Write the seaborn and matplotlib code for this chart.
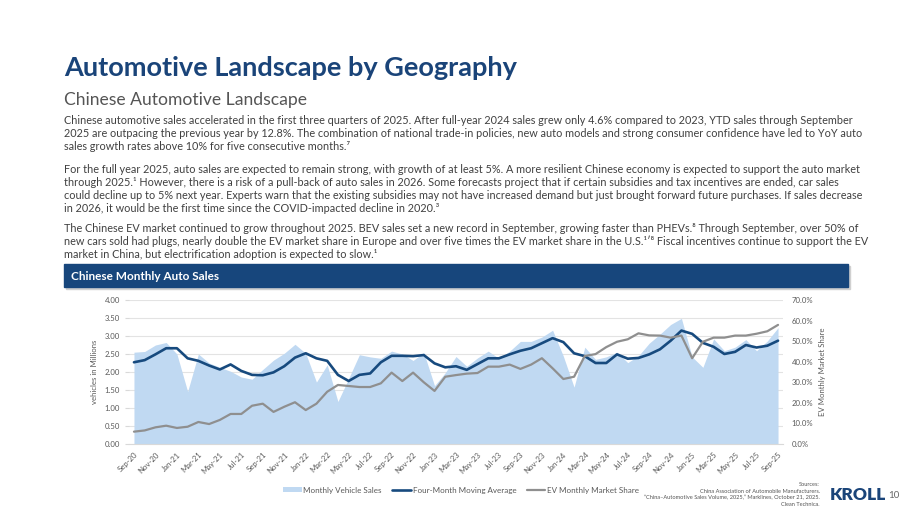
import matplotlib
matplotlib.use("Agg")
import matplotlib.pyplot as plt
import matplotlib.patches as mpatches
from matplotlib.lines import Line2D
from matplotlib.ticker import FuncFormatter, MultipleLocator, FixedLocator
import numpy as np
import pandas as pd
import seaborn as sns

# ── Data ──────────────────────────────────────────────────────────────────────
months = [
    "Sep-20", "Oct-20", "Nov-20", "Dec-20",
    "Jan-21", "Feb-21", "Mar-21", "Apr-21", "May-21", "Jun-21",
    "Jul-21", "Aug-21", "Sep-21", "Oct-21", "Nov-21", "Dec-21",
    "Jan-22", "Feb-22", "Mar-22", "Apr-22", "May-22", "Jun-22",
    "Jul-22", "Aug-22", "Sep-22", "Oct-22", "Nov-22", "Dec-22",
    "Jan-23", "Feb-23", "Mar-23", "Apr-23", "May-23", "Jun-23",
    "Jul-23", "Aug-23", "Sep-23", "Oct-23", "Nov-23", "Dec-23",
    "Jan-24", "Feb-24", "Mar-24", "Apr-24", "May-24", "Jun-24",
    "Jul-24", "Aug-24", "Sep-24", "Oct-24", "Nov-24", "Dec-24",
    "Jan-25", "Feb-25", "Mar-25", "Apr-25", "May-25", "Jun-25",
    "Jul-25", "Aug-25", "Sep-25",
]
monthly_sales = [
    2.55, 2.57, 2.75, 2.82,
    2.50, 1.46, 2.50, 2.25, 2.13, 2.02,
    1.86, 1.80, 2.07, 2.33, 2.52, 2.77,
    2.52, 1.72, 2.20, 1.18, 1.82, 2.48,
    2.42, 2.38, 2.58, 2.50, 2.32, 2.54,
    1.62, 1.98, 2.43, 2.16, 2.39, 2.58,
    2.38, 2.58, 2.85, 2.85, 2.97, 3.16,
    2.44, 1.58, 2.69, 2.35, 2.42, 2.55,
    2.26, 2.45, 2.80, 3.05, 3.32, 3.49,
    2.42, 2.13, 2.92, 2.59, 2.69, 2.90,
    2.59, 2.86, 3.23,
]
moving_avg = [
    2.27, 2.33, 2.49, 2.66,
    2.66, 2.38, 2.31, 2.18, 2.07, 2.21,
    2.03, 1.92, 1.91, 1.99, 2.16, 2.40,
    2.52, 2.38, 2.31, 1.92, 1.75, 1.92,
    1.96, 2.27, 2.45, 2.45, 2.44, 2.47,
    2.24, 2.13, 2.16, 2.06, 2.22, 2.38,
    2.38, 2.49, 2.59, 2.66, 2.80, 2.94,
    2.83, 2.52, 2.44, 2.25, 2.25, 2.49,
    2.37, 2.39, 2.49, 2.63, 2.87, 3.15,
    3.06, 2.81, 2.70, 2.50, 2.56, 2.75,
    2.68, 2.73, 2.87,
]
ev_share = [
    6.0, 6.6, 8.1, 8.9,
    7.8, 8.4, 10.7, 9.7, 11.7, 14.6,
    14.6, 18.6, 19.6, 15.6, 18.1, 20.3,
    16.5, 19.6, 25.4, 28.7, 28.2, 27.7,
    27.7, 29.5, 34.7, 30.6, 34.7, 30.0,
    25.8, 32.7, 33.5, 34.2, 34.5, 37.6,
    37.6, 38.6, 36.5, 38.6, 41.7, 36.8,
    31.6, 32.7, 42.8, 43.7, 47.1, 49.7,
    50.9, 53.8, 52.8, 52.7, 51.7, 52.7,
    41.7, 49.7, 51.7, 51.7, 52.7, 52.7,
    53.6, 54.8, 57.9,
]

title = "Automotive Landscape by Geography"
subtitle = "Chinese Automotive Landscape"
paragraphs = [
    ["Chinese automotive sales accelerated in the first three quarters of 2025. After full-year 2024 sales grew only 4.6% compared to 2023, YTD sales through September",
     "2025 are outpacing the previous year by 12.8%. The combination of national trade-in policies, new auto models and strong consumer confidence have led to YoY auto",
     "sales growth rates above 10% for five consecutive months.\u2077"],
    ["For the full year 2025, auto sales are expected to remain strong, with growth of at least 5%. A more resilient Chinese economy is expected to support the auto market",
     "through 2025.\u00b9 However, there is a risk of a pull-back of auto sales in 2026. Some forecasts project that if certain subsidies and tax incentives are ended, car sales",
     "could decline up to 5% next year. Experts warn that the existing subsidies may not have increased demand but just brought forward future purchases. If sales decrease",
     "in 2026, it would be the first time since the COVID-impacted decline in 2020.\u00b3"],
    ["The Chinese EV market continued to grow throughout 2025. BEV sales set a new record in September, growing faster than PHEVs.\u2078 Through September, over 50% of",
     "new cars sold had plugs, nearly double the EV market share in Europe and over five times the EV market share in the U.S.\u00b9\u02b9\u2078 Fiscal incentives continue to support the EV",
     "market in China, but electrification adoption is expected to slow.\u00b9"],
]
sources = ("Sources:\nChina Association of Automobile Manufacturers.\n"
           "\u201cChina\u2013Automotive Sales Volume, 2025,\u201d Marklines, October 21, 2025.\n"
           "Clean Technica.")

# ── Style ─────────────────────────────────────────────────────────────────────
NAVY = "#1a4479"
BANNER = "#17467c"
AREA = "#c0d9f2"
MA_BLUE = "#174a7e"
EV_GRAY = "#8f8f8f"
TXT = "#404040"
TICK = "#595959"

sns.set_style("white")
plt.rcParams["font.family"] = ["Lato", "DejaVu Sans"]

W, H = 920, 518
fig = plt.figure(figsize=(9.2, 5.18), dpi=100)


def fx(x):
    return x / W


def fy(y):
    return 1 - y / H


renderer = fig.canvas.get_renderer()


def fit(t, width_px):
    w = t.get_window_extent(renderer).width
    t.set_fontsize(t.get_fontsize() * width_px / w)


# ── Header text ───────────────────────────────────────────────────────────────
t = fig.text(fx(64), fy(76), title, fontsize=20, weight="bold", color=NAVY, va="baseline")
fit(t, 454)
t = fig.text(fx(64), fy(105), subtitle, fontsize=12, color="#555555", va="baseline")
fit(t, 242)

baselines = [[124, 137, 150], [173, 186, 199, 212], [232, 245, 258]]
body = []
for para, ys in zip(paragraphs, baselines):
    for line, y in zip(para, ys):
        body.append(fig.text(fx(64), fy(y), line, fontsize=7.5, color=TXT, va="baseline"))
widest = max(b.get_window_extent(renderer).width for b in body)
scale = 798 / widest
for b in body:
    b.set_fontsize(7.5 * scale)

# ── Banner ────────────────────────────────────────────────────────────────────
fig.patches.append(mpatches.Rectangle((fx(66), fy(289)), (848 - 64) / W, 23 / H,
                                      transform=fig.transFigure, color="#d0d0d0", zorder=0))
fig.patches.append(mpatches.Rectangle((fx(64), fy(287)), (848 - 64) / W, 23 / H,
                                      transform=fig.transFigure, color=BANNER, zorder=1))
t = fig.text(fx(71), fy(276), "Chinese Monthly Auto Sales", fontsize=8, weight="bold",
             color="white", va="center")
fit(t, 148)

# ── Chart ─────────────────────────────────────────────────────────────────────
df = pd.DataFrame({
    "idx": np.arange(len(months)),
    "month": months,
    "sales": monthly_sales,
    "ma": moving_avg,
    "ev": ev_share,
})

ax = fig.add_axes([fx(128.6), fy(444), (783.4 - 128.6) / W, 144 / H])
ax.fill_between(df["idx"], 0, df["sales"], color=AREA, lw=0, zorder=1)
sns.lineplot(data=df, x="idx", y="ma", ax=ax, color=MA_BLUE, lw=1.9, zorder=3)

ax.set_xlim(-0.5, len(months) - 0.5)
ax.set_ylim(0, 4)
ax.yaxis.set_major_locator(MultipleLocator(0.5))
ax.yaxis.set_major_formatter(FuncFormatter(lambda v, _: f"{v:.2f}"))
ax.grid(axis="y", color="#e3e3e3", lw=0.8)
ax.set_axisbelow(True)
for s in ["top", "right", "left"]:
    ax.spines[s].set_visible(False)
ax.spines["bottom"].set_color("#d9d9d9")
ax.spines["bottom"].set_linewidth(0.8)

ax.set_xticks(df["idx"][::2])
ax.set_xticklabels(df["month"][::2], rotation=45, ha="right", va="top",
                   rotation_mode="anchor", fontsize=5.6, color=TICK)
ax.xaxis.set_minor_locator(FixedLocator(np.arange(-0.5, len(months), 2)))
ax.tick_params(axis="x", which="major", length=0, pad=5)
ax.tick_params(axis="x", which="minor", length=3, color="#d9d9d9", width=0.8)
ax.tick_params(axis="y", length=3, color="#d9d9d9", labelsize=5.6, labelcolor=TICK, pad=3)
ax.set_xlabel("")
ax.set_ylabel("vehicles in Millions", fontsize=5.6, color=TICK, labelpad=5)

ax2 = ax.twinx()
sns.lineplot(data=df, x="idx", y="ev", ax=ax2, color=EV_GRAY, lw=1.6)
ax2.set_ylim(0, 70)
ax2.yaxis.set_major_locator(MultipleLocator(10))
ax2.yaxis.set_major_formatter(FuncFormatter(lambda v, _: f"{v:.1f}%"))
ax2.tick_params(axis="y", length=0, labelsize=5.6, labelcolor=TICK, pad=6)
for s in ["top", "right", "left", "bottom"]:
    ax2.spines[s].set_visible(False)
ax2.set_ylabel("EV Monthly Market Share", fontsize=5.6, color=TICK, labelpad=4)
ax2.grid(False)

handles = [
    mpatches.Patch(facecolor=AREA, edgecolor="none", label="Monthly Vehicle Sales"),
    Line2D([0], [0], color=MA_BLUE, lw=1.9, label="Four-Month Moving Average"),
    Line2D([0], [0], color=EV_GRAY, lw=1.6, label="EV Monthly Market Share"),
]
fig.legend(handles=handles, loc="center", bbox_to_anchor=(fx(461), fy(490)), ncol=3,
           frameon=False, fontsize=5.8, handlelength=2.3, handleheight=0.5,
           handletextpad=0.2, columnspacing=1.3, labelcolor=TICK)

# ── Footer ────────────────────────────────────────────────────────────────────
fig.text(fx(820), fy(494.5), sources, ha="right", va="center", multialignment="right",
         fontsize=4.1, color="#555555", linespacing=1.35)
fig.text(fx(830), fy(495), "KROLL", fontsize=12.5, weight="heavy", color=NAVY, va="center")
fig.text(fx(888), fy(495), "10", fontsize=7, color="#666666", va="center")

fig.savefig("out.png", dpi=100)
